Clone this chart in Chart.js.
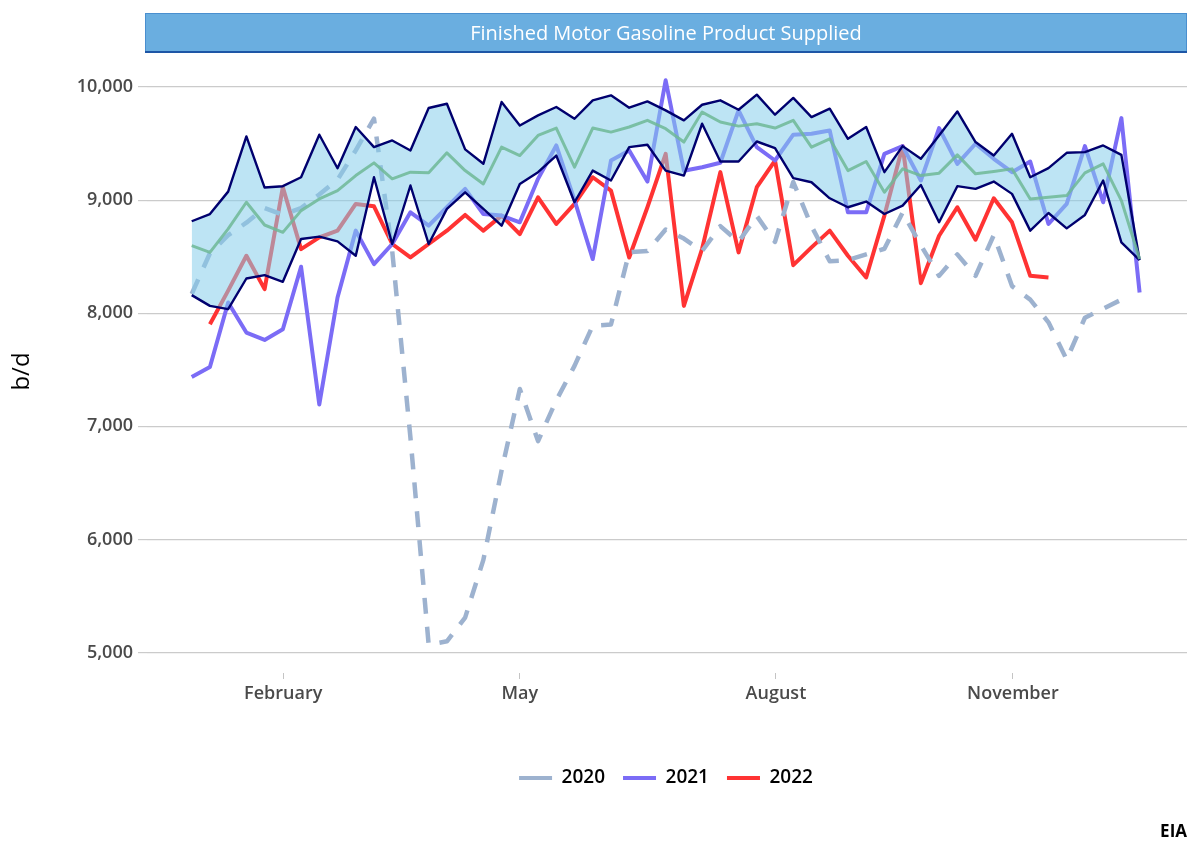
<!DOCTYPE html>
<html>
<head>
<meta charset="utf-8">
<script src="https://cdn.jsdelivr.net/npm/chart.js@4/dist/chart.umd.min.js"></script>
<style>
  body { margin: 0; background: #fff; }
</style>
</head>
<body>
<canvas id="gasoline" width="1200" height="857"></canvas>
<script>
// weeks of the year
const weeks = [1, 2, 3, 4, 5, 6, 7, 8, 9, 10, 11, 12, 13, 14, 15, 16, 17, 18, 19, 20,
  21, 22, 23, 24, 25, 26, 27, 28, 29, 30, 31, 32, 33, 34, 35, 36, 37, 38, 39, 40,
  41, 42, 43, 44, 45, 46, 47, 48, 49, 50, 51, 52, 53];

// month ticks (position in weeks) and their labels
const monthTicks = [6.02, 19.0, 33.05, 46.05];
const monthLabels = ['February', 'May', 'August', 'November'];
const yTicks = [5000, 6000, 7000, 8000, 9000, 10000];

// 5 year range and average
const rangeMax = [8813, 8877, 9075, 9563, 9111, 9123, 9202, 9578, 9282, 9646,
  9468, 9527, 9439, 9814, 9852, 9448, 9321, 9867, 9660, 9749,
  9823, 9719, 9882, 9926, 9817, 9873, 9793, 9705, 9843, 9882,
  9799, 9932, 9755, 9903, 9734, 9808, 9542, 9646, 9247, 9477,
  9365, 9572, 9784, 9513, 9394, 9586, 9202, 9282, 9418, 9424,
  9483, 9400, 8470];
const rangeMin = [8160, 8065, 8036, 8307, 8337, 8278, 8656, 8677, 8635, 8508,
  9202, 8612, 9129, 8612, 8922, 9069, 8922, 8774, 9143, 9247,
  9394, 8981, 9261, 9173, 9468, 9489, 9261, 9217, 9675, 9341,
  9341, 9518, 9459, 9194, 9158, 9016, 8937, 8987, 8877, 8951,
  9134, 8804, 9123, 9099, 9164, 9055, 8730, 8886, 8750, 8869,
  9173, 8626, 8470];
const rangeAvg = [8597, 8538, 8745, 8981, 8780, 8715, 8907, 9010, 9084, 9217,
  9329, 9188, 9247, 9241, 9418, 9261, 9143, 9468, 9394, 9572,
  9637, 9291, 9637, 9601, 9646, 9705, 9631, 9513, 9778, 9690,
  9654, 9675, 9637, 9705, 9468, 9542, 9261, 9341, 9069, 9276,
  9217, 9238, 9400, 9232, 9253, 9276, 9010, 9025, 9040, 9241,
  9320, 8996, 8479];

// yearly series
const y2020 = [8170, 8530, 8690, 8800, 8930, 8870, 8930, 9050, 9180, 9440,
  9720, 8550, 6900, 5070, 5100, 5310, 5820, 6610, 7330, 6870,
  7230, 7535, 7890, 7900, 8540, 8550, 8740, 8660, 8550, 8770,
  8630, 8860, 8630, 9160, 8770, 8460, 8470, 8520, 8570, 8890,
  8600, 8330, 8520, 8330, 8690, 8240, 8120, 7920, 7590, 7960,
  8040, 8120, null];
const y2021 = [7436, 7525, 8095, 7829, 7764, 7858, 8411, 7194, 8139, 8730,
  8434, 8612, 8892, 8774, 8937, 9099, 8877, 8863, 8804, 9188,
  9483, 9000, 8479, 9350, 9439, 9164, 10059, 9260, 9291, 9330,
  9793, 9468, 9350, 9578, 9586, 9616, 8892, 8892, 9409, 9477,
  9173, 9637, 9320, 9498, 9365, 9247, 9341, 8789, 8966, 9477,
  8981, 9725, 8183];
const y2022 = [null, 7903, 8200, 8508, 8213, 9114, 8567, 8670, 8730, 8966,
  8945, 8612, 8493, 8612, 8730, 8869, 8730, 8863, 8700, 9025,
  8789, 8966, 9202, 9084, 8493, 8937, 9409, 8065, 8570, 9247,
  8538, 9114, 9350, 8425, 8582, 8730, 8508, 8316, 8863, 9477,
  8266, 8685, 8937, 8650, 9016, 8804, 8331, 8316, null, null,
  null, null, null];

const fontFamily = '"Open Sans", "Noto Sans", sans-serif';
const yearNames = ['2020', '2021', '2022'];

// blue box behind the title, title + legend centred on the plot
const titleBox = {
  id: 'titleBox',
  afterLayout(chart) {
    const left = chart.chartArea.left - 2;
    if (chart.titleBlock) chart.titleBlock.left = left;
    if (chart.legend) chart.legend.left = left;
  },
  beforeDraw(chart) {
    const {ctx, chartArea} = chart;
    const x = chartArea.left - 2;
    const w = chartArea.right - x;
    ctx.save();
    ctx.fillStyle = '#6aaee0';
    ctx.fillRect(x, 13, w, 40);
    ctx.strokeStyle = '#4a8fcf';
    ctx.lineWidth = 1;
    ctx.strokeRect(x + 0.5, 13.5, w - 1, 39);
    ctx.fillStyle = '#1d56a6';
    ctx.fillRect(x, 51, w, 2);
    ctx.restore();
  }
};

new Chart(document.getElementById('gasoline'), {
  type: 'line',
  plugins: [titleBox],
  data: {
    labels: weeks,
    datasets: [
      {
        label: 'max',
        data: rangeMax,
        borderColor: '#00006e',
        borderWidth: 2.4,
        backgroundColor: 'rgba(135,206,235,0.55)',
        fill: 1,
        order: 3,
      },
      {
        label: 'min',
        data: rangeMin,
        borderColor: '#00006e',
        borderWidth: 2.4,
        fill: false,
        order: 2,
      },
      {
        label: 'avg',
        data: rangeAvg,
        borderColor: 'rgba(110,185,150,0.85)',
        borderWidth: 3,
        fill: false,
        order: 1,
      },
      {
        label: yearNames[0],
        data: y2020,
        borderColor: '#9db2cf',
        borderWidth: 4.5,
        borderDash: [16, 13],
        fill: false,
        order: 5,
      },
      {
        label: yearNames[1],
        data: y2021,
        borderColor: '#7b6cf6',
        borderWidth: 4,
        fill: false,
        order: 5,
      },
      {
        label: yearNames[2],
        data: y2022,
        borderColor: '#ff3333',
        borderWidth: 4,
        fill: false,
        order: 5,
      },
    ]
  },
  options: {
    responsive: false,
    animation: false,
    devicePixelRatio: 1,
    spanGaps: false,
    elements: {
      point: { radius: 0, hoverRadius: 0 },
      line: { tension: 0, borderJoinStyle: 'round', borderCapStyle: 'butt' }
    },
    layout: { padding: { left: 0, right: 13, top: 0, bottom: 0 } },
    scales: {
      x: {
        type: 'linear',
        min: -1.452,
        max: 55.6,
        afterBuildTicks: (scale) => {
          scale.ticks = monthTicks.map(v => ({ value: v }));
        },
        afterFit: (scale) => { scale.height = 77.5; },
        ticks: {
          autoSkip: false,
          maxRotation: 0,
          padding: 4,
          color: '#4a4a4a',
          font: { family: fontFamily, size: 18, weight: 600 },
          callback: (value, index) => monthLabels[index]
        },
        grid: {
          drawOnChartArea: false,
          drawTicks: true,
          tickLength: 6,
          color: '#c4c4c4'
        },
        border: { display: false }
      },
      y: {
        min: 4820,
        max: 10150,
        afterBuildTicks: (scale) => {
          scale.ticks = yTicks.map(v => ({ value: v }));
        },
        afterFit: (scale) => { scale.width = 147; },
        ticks: {
          padding: 5,
          color: '#4a4a4a',
          font: { family: fontFamily, size: 18, weight: 600 },
          callback: (v) => v.toLocaleString('en-US')
        },
        grid: {
          color: '#cbcbcb',
          tickLength: 9,
          lineWidth: 1.2
        },
        border: { display: false },
        title: {
          display: true,
          text: 'b/d',
          color: '#000',
          font: { family: fontFamily, size: 24 },
          padding: { top: 8, bottom: 0 }
        }
      }
    },
    plugins: {
      title: {
        display: true,
        text: 'Finished Motor Gasoline Product Supplied',
        color: '#ffffff',
        font: { family: fontFamily, size: 20, weight: 'normal' },
        padding: { top: 22, bottom: 24 }
      },
      subtitle: {
        display: true,
        position: 'bottom',
        align: 'end',
        text: 'EIA',
        color: '#000',
        font: { family: fontFamily, size: 17, weight: 'bold' },
        padding: { top: 24.3, bottom: 14.8 }
      },
      legend: {
        position: 'bottom',
        labels: {
          boxWidth: 33,
          boxHeight: 4,
          color: '#000',
          font: { family: fontFamily, size: 19, weight: 600 },
          padding: 18,
          filter: (item) => yearNames.includes(item.text),
          generateLabels: (chart) => chart.data.datasets.map((ds, i) => ({
            text: ds.label,
            fillStyle: ds.borderColor,
            strokeStyle: ds.borderColor,
            lineWidth: 0,
            hidden: false,
            datasetIndex: i
          }))
        }
      },
      tooltip: { enabled: false }
    }
  }
});
</script>
</body>
</html>
